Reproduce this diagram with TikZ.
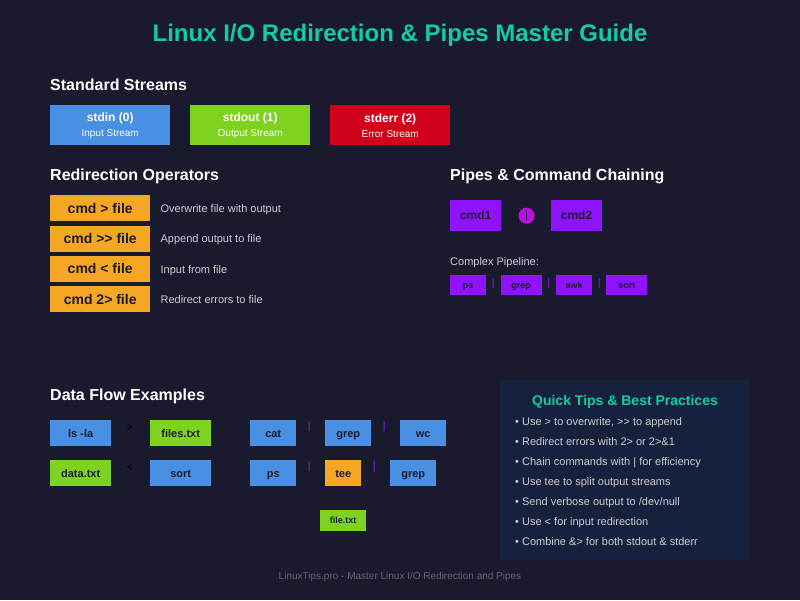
\documentclass[tikz,border=0pt]{standalone}
\usepackage{fontspec}
\setmainfont{Liberation Sans}
\usetikzlibrary{positioning,calc}
\definecolor{guideBg}{HTML}{1A1A2E}
\definecolor{guideTeal}{HTML}{12CDA0}
\definecolor{guideBlue}{HTML}{4A90E2}
\definecolor{guideGreen}{HTML}{7ED321}
\definecolor{guideRed}{HTML}{D0021B}
\definecolor{guideOrange}{HTML}{F5A623}
\definecolor{guidePurple}{HTML}{9013FE}
\definecolor{guideMagenta}{HTML}{BD10E0}
\definecolor{guidePanel}{HTML}{16213E}
\definecolor{guideText}{HTML}{1A1A2E}
\definecolor{guideGray}{HTML}{CCCCCC}
\definecolor{guideFooter}{HTML}{666666}

\begin{document}
\begin{tikzpicture}[x=1pt, y=-1pt,
  heading/.style={anchor=base west, inner sep=0, text=white,
                  font=\bfseries\fontsize{16}{18}\selectfont},
  stream/.style={anchor=north west, inner sep=0, minimum width=120pt,
                 minimum height=40pt, align=center, text=white,
                 font=\fontsize{10}{15}\selectfont},
  opbox/.style={fill=guideOrange, inner sep=0, minimum width=100pt,
                minimum height=26pt, text height=9.8pt, text depth=0pt,
                text=guideText, font=\bfseries\fontsize{14}{16}\selectfont},
  desc/.style={inner sep=0, text height=8.6pt, text depth=0pt, text=guideGray,
               font=\fontsize{11}{13}\selectfont},
  cmdbox/.style={fill=guidePurple, inner sep=0, minimum width=51pt,
                 minimum height=31pt, text height=8.4pt, text depth=0pt,
                 text=guideText, font=\bfseries\fontsize{12}{14}\selectfont},
  minibox/.style={fill=guidePurple, inner sep=0, minimum height=20pt,
                  text height=6.3pt, text depth=0pt,
                  text=guideText, font=\bfseries\fontsize{9}{11}\selectfont},
  flowbox/.style={anchor=north west, inner sep=0, minimum width=46pt,
                  minimum height=26pt, text height=7.7pt, text depth=0pt,
                  text=guideText, font=\bfseries\fontsize{11}{13}\selectfont},
  pipesym/.style={inner sep=0, text=guidePurple, font=\fontsize{11}{13}\selectfont},
  redir/.style={inner sep=0, text=black, font=\fontsize{10}{12}\selectfont},
  tip/.style={anchor=base west, inner sep=0, text=guideGray,
              font=\fontsize{11}{13}\selectfont}
]
\fill[guideBg] (0,0) rectangle (800,600);

% title
\node[anchor=base, inner sep=0, text=guideTeal,
      font=\bfseries\fontsize{24}{28}\selectfont] (title) at (400,41)
  {Linux I/O Redirection \& Pipes Master Guide};

% standard streams
\node[heading] (streamsHead) at (50,90) {Standard Streams};
\node[stream, fill=guideBlue] (stdin) at (50,105)
  {{\bfseries\fontsize{12}{15}\selectfont stdin (0)}\\Input Stream};
\node[stream, fill=guideGreen] (stdout) at (190,105)
  {{\bfseries\fontsize{12}{15}\selectfont stdout (1)}\\Output Stream};
\node[stream, fill=guideRed] (stderr) at (330,105)
  {{\bfseries\fontsize{12}{15}\selectfont stderr (2)}\\Error Stream};

% redirection operators
\node[heading] (opsHead) at (50,180) {Redirection Operators};
\node[opbox, anchor=north west] (opWrite) at (50,195) {cmd > file};
\node[opbox, below=4pt of opWrite] (opAppend) {cmd >\kern0pt> file};
\node[opbox, below=4pt of opAppend] (opInput) {cmd < file};
\node[opbox, below=4pt of opInput] (opErr) {cmd 2> file};
\node[desc, right=10pt of opWrite] (descWrite) {Overwrite file with output};
\node[desc, right=10pt of opAppend] (descAppend) {Append output to file};
\node[desc, right=10pt of opInput] (descInput) {Input from file};
\node[desc, right=10pt of opErr] (descErr) {Redirect errors to file};

% pipes
\node[heading] (pipesHead) at (450,180) {Pipes \& Command Chaining};
\node[cmdbox, anchor=north west] (cmdOne) at (450,200) {cmd1};
\node[circle, fill=guideMagenta, minimum size=16pt, inner sep=0,
      text=guideText, font=\fontsize{11}{13}\selectfont,
      right=17pt of cmdOne] (pipeDot) {|};
\node[cmdbox, right=16pt of pipeDot] (cmdTwo) {cmd2};
\node[desc, anchor=west] (complexLabel) at (450,261) {Complex Pipeline:};
\node[minibox, minimum width=36pt, anchor=north west] (pPs) at (450,275) {ps};
\node[minibox, minimum width=41pt, right=14pt of pPs] (pGrep) {grep};
\node[minibox, minimum width=36pt, right=14pt of pGrep] (pAwk) {awk};
\node[minibox, minimum width=41pt, right=14pt of pAwk] (pSort) {sort};
\node[pipesym] at ($(pPs.east)!0.5!(pGrep.west)+(0,-2)$) {|};
\node[pipesym] at ($(pGrep.east)!0.5!(pAwk.west)+(0,-2)$) {|};
\node[pipesym] at ($(pAwk.east)!0.5!(pSort.west)+(0,-2)$) {|};

% data flow
\node[heading] (flowHead) at (50,400) {Data Flow Examples};
\node[flowbox, fill=guideBlue, minimum width=61pt] (lsCmd) at (50,420) {ls -la};
\node[flowbox, fill=guideGreen, minimum width=61pt] (filesOut) at (150,420) {files.txt};
\node[flowbox, fill=guideGreen, minimum width=61pt] (dataIn) at (50,460) {data.txt};
\node[flowbox, fill=guideBlue, minimum width=61pt] (sortCmd) at (150,460) {sort};
\node[redir] at ($(lsCmd.east)!0.5!(filesOut.west)+(-1,-6)$) {>};
\node[redir] at ($(dataIn.east)!0.5!(sortCmd.west)+(-1,-6)$) {<};

\node[flowbox, fill=guideBlue] (catCmd) at (250,420) {cat};
\node[flowbox, fill=guideBlue] (grepA) at (325,420) {grep};
\node[flowbox, fill=guideBlue] (wcCmd) at (400,420) {wc};
\node[pipesym] at ($(catCmd.east)!0.5!(grepA.west)+(-1.5,-7)$) {|};
\node[pipesym] at ($(grepA.east)!0.5!(wcCmd.west)+(-1.5,-7)$) {|};

\node[flowbox, fill=guideBlue] (psCmd) at (250,460) {ps};
\node[flowbox, fill=guideOrange, minimum width=36pt] (teeCmd) at (325,460) {tee};
\node[flowbox, fill=guideBlue] (grepB) at (390,460) {grep};
\node[pipesym] at ($(psCmd.east)!0.5!(teeCmd.west)+(-1.5,-7)$) {|};
\node[pipesym] at ($(teeCmd.east)!0.5!(grepB.west)+(-1.5,-7)$) {|};
\node[flowbox, fill=guideGreen, minimum height=21pt, text height=6.3pt,
      font=\bfseries\fontsize{9}{11}\selectfont] (teeFile) at (320,510) {file.txt};

% tips panel
\fill[guidePanel] (500,380) rectangle (750,560);
\node[anchor=base, inner sep=0, text=guideTeal,
      font=\bfseries\fontsize{14}{16}\selectfont] (tipsHead) at (625,405)
  {Quick Tips \& Best Practices};
\node[tip] (tipA) at (515,425.5) {• Use > to overwrite, >\kern0pt> to append};
\node[tip] (tipB) at (515,445.5) {• Redirect errors with 2> or 2>\&1};
\node[tip] (tipC) at (515,465.5) {• Chain commands with | for efficiency};
\node[tip] (tipD) at (515,485.5) {• Use tee to split output streams};
\node[tip] (tipE) at (515,505.5) {• Send verbose output to /dev/null};
\node[tip] (tipF) at (515,525.5) {• Use < for input redirection};
\node[tip] (tipG) at (515,545.5) {• Combine \&> for both stdout \& stderr};

% footer
\node[anchor=base, inner sep=0, text=guideFooter,
      font=\fontsize{10}{12}\selectfont] (footer) at (400,579.5)
  {LinuxTips.pro - Master Linux I/O Redirection and Pipes};
\end{tikzpicture}
\end{document}
